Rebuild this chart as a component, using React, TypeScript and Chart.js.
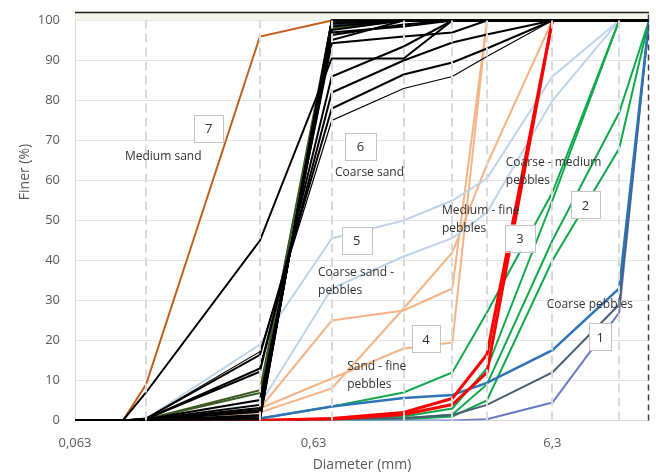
import React, { useEffect, useRef } from 'react';
import { Chart, registerables } from 'chart.js';

Chart.register(...registerables);

// Sieve openings (mm) shared by every grading curve
const SIEVES = [0.063, 0.1, 0.125, 0.375, 0.75, 1.5, 2.4, 3.35, 6.3, 12, 16];
const X_TICKS = [0.063, 0.63, 6.3];
const Y_TICK_STEP = 10;
const Y_MAX = 102;

// Group 7 – medium sand
const MEDIUM_SAND = [0, 0, 9, 96, 100, 100, 100, 100, 100, 100, 100];

// Group 6 – coarse sand (black)
const COARSE_SAND = [
  [0, 0, 0.5, 17.2, 75, 83, 86, 91, 100, 100, 100],
  [0, 0, 0.5, 16.4, 78, 86.5, 89.5, 93, 100, 100, 100],
  [0, 0, 0.4, 13, 82, 90, 94.5, 96.5, 100, 100, 100],
  [0, 0, 0.4, 12.2, 86, 93.5, 100, 100, 100, 100, 100],
  [0, 0, 7, 45, 90.5, 90.5, 100, 100, 100, 100, 100],
  [0, 0, 0.3, 5.1, 94.3, 96, 97, 100, 100, 100, 100],
  [0, 0, 0.2, 3.9, 95.1, 100, 100, 100, 100, 100, 100],
  [0, 0, 0.2, 3.1, 96.4, 99, 100, 100, 100, 100, 100],
  [0, 0, 0.1, 2.2, 97.6, 100, 100, 100, 100, 100, 100],
  [0, 0, 0, 2.6, 97, 98.5, 100, 100, 100, 100, 100],
  [0, 0, 0, 1.4, 98.5, 100, 100, 100, 100, 100, 100],
  [0, 0, 0, 0.9, 99.3, 100, 100, 100, 100, 100, 100],
  [0, 0, 0, 0.5, 100, 100, 100, 100, 100, 100, 100],
  [0, 0, 0, 0.2, 100, 100, 100, 100, 100, 100, 100],
];
// Group 6 – coarse sand (olive and navy samples)
const COARSE_SAND_OLIVE = [
  [0, 0, 0.3, 7.6, 98, 100, 100, 100, 100, 100, 100],
  [0, 0, 0.3, 6.9, 100, 100, 100, 100, 100, 100, 100],
];
const COARSE_SAND_NAVY = [
  [0, 0, 0, 1.2, 99, 100, 100, 100, 100, 100, 100],
  [0, 0, 0, 0.3, 100, 100, 100, 100, 100, 100, 100],
];

// Group 5 – coarse sand to pebbles
const SAND_PEBBLES = [
  [0, 0, 0.5, 19, 45.5, 50, 55, 60.5, 86, 100, 100],
  [0, 0, 0.3, 4, 33, 41, 45.6, 52, 80, 100, 100],
];

// Group 4 – sand to fine pebbles
const SAND_FINE_PEBBLES = [
  [0, 0, 0, 3, 25, 27.5, 33, 100, 100, 100, 100],
  [0, 0, 0, 3, 10.5, 18, 19.5, 100, 100, 100, 100],
  [0, 0, 0, 2, 8, 28, 42, 64, 100, 100, 100],
];

// Group 3 – medium to fine pebbles
const MEDIUM_FINE_PEBBLES = [
  [0, 0, 0, 0, 0.5, 2, 5.5, 16.5, 100, 100, 100],
  [0, 0, 0, 0, 0.3, 1.5, 4, 12, 100, 100, 100],
];

// Group 2 – coarse to medium pebbles
const COARSE_MEDIUM_PEBBLES = [
  [0, 0, 0, 0.5, 3.5, 7, 12, 27, 57, 100, 100],
  [0, 0, 0, 0, 0.5, 1, 3, 13, 55, 100, 100],
  [0, 0, 0, 0, 0.3, 0.5, 1.5, 9, 45, 77, 100],
  [0, 0, 0, 0, 0, 0.3, 1, 5, 40, 68, 100],
];

// Group 1 – coarse pebbles
const COARSE_PEBBLES_A = [0, 0, 0, 0.5, 3.5, 5.6, 6.4, 9.4, 17.6, 33, 100];
const COARSE_PEBBLES_B = [0, 0, 0, 0, 0.3, 0.6, 1.4, 3.9, 12, 29, 100];
const COARSE_PEBBLES_C = [0, 0, 0, 0, 0, 0, 0, 0.3, 4.5, 27, 100];

// Dashed guides at the sieve openings
const SIEVE_GUIDES = [0.125, 0.375, 0.75, 1.5, 2.4, 3.35, 6.3, 12];

// Group markers (number boxes) and captions, placed in diameter / percent units
const GROUP_BOXES = [
  { text: '7', d: 0.229, v: 73.1, w: 29 },
  { text: '6', d: 0.99, v: 68.6, w: 31 },
  { text: '5', d: 0.954, v: 45.1, w: 30 },
  { text: '4', d: 1.86, v: 20.4, w: 28 },
  { text: '3', d: 4.61, v: 45.6, w: 30 },
  { text: '2', d: 8.66, v: 53.9, w: 29 },
  { text: '1', d: 10.0, v: 20.9, w: 22 },
];
const CAPTIONS = [
  { lines: ['Medium sand'], d: 0.102, v: 65.9 },
  { lines: ['Coarse sand'], d: 0.774, v: 61.9 },
  { lines: ['Coarse sand -', 'pebbles'], d: 0.657, v: 37.1 },
  { lines: ['Medium - fine', 'pebbles'], d: 2.17, v: 52.6 },
  { lines: ['Coarse - medium', 'pebbles'], d: 4.02, v: 64.4 },
  { lines: ['Sand - fine', 'pebbles'], d: 0.87, v: 13.6 },
  { lines: ['Coarse pebbles'], d: 5.97, v: 29.1 },
];

const FONT = "'Open Sans', 'DejaVu Sans', sans-serif";

function curve(values: number[], color: string, width: number) {
  return {
    data: SIEVES.map((d, i) => ({ x: d, y: values[i] })),
    borderColor: color,
    backgroundColor: color,
    borderWidth: width,
    pointRadius: 0,
    tension: 0,
    fill: false,
  };
}

const overlay = {
  id: 'overlay',
  beforeDatasetsDraw(chart: any) {
    const { ctx, chartArea, scales } = chart;
    const y100 = scales.y.getPixelForValue(100);
    ctx.save();
    ctx.fillStyle = 'rgba(236, 242, 226, 0.7)';
    ctx.fillRect(chartArea.left, chartArea.top, chartArea.right - chartArea.left, y100 - chartArea.top);
    ctx.restore();
  },
  afterDatasetsDraw(chart: any) {
    const { ctx, chartArea, scales } = chart;
    const { x, y } = scales;
    ctx.save();
    ctx.strokeStyle = '#dadada';
    ctx.lineWidth = 2;
    ctx.setLineDash([9, 5]);
    for (const d of SIEVE_GUIDES) {
      const px = Math.round(x.getPixelForValue(d));
      ctx.beginPath();
      ctx.moveTo(px, chartArea.bottom);
      ctx.lineTo(px, y.getPixelForValue(100));
      ctx.stroke();
    }
    // right-hand edge of the sieve range
    ctx.strokeStyle = '#404040';
    ctx.lineWidth = 1.5;
    ctx.setLineDash([6, 4]);
    ctx.beginPath();
    ctx.moveTo(chartArea.right - 0.5, chartArea.bottom);
    ctx.lineTo(chartArea.right - 0.5, chartArea.top);
    ctx.stroke();
    ctx.restore();
  },
  afterDraw(chart: any) {
    const { ctx, chartArea, scales } = chart;
    const { x, y } = scales;
    ctx.save();
    // top frame
    ctx.strokeStyle = '#1a1a1a';
    ctx.lineWidth = 1.5;
    ctx.beginPath();
    ctx.moveTo(chartArea.left, chartArea.top);
    ctx.lineTo(chartArea.right, chartArea.top);
    ctx.stroke();

    // group number boxes
    ctx.font = `13px ${FONT}`;
    ctx.textAlign = 'center';
    ctx.textBaseline = 'middle';
    for (const b of GROUP_BOXES) {
      const cx = x.getPixelForValue(b.d);
      const cy = y.getPixelForValue(b.v);
      const h = 27;
      ctx.fillStyle = '#ffffff';
      ctx.fillRect(cx - b.w / 2, cy - h / 2, b.w, h);
      ctx.strokeStyle = '#c4c4c4';
      ctx.lineWidth = 1;
      ctx.strokeRect(Math.round(cx - b.w / 2) + 0.5, Math.round(cy - h / 2) + 0.5, b.w, h);
      ctx.fillStyle = '#333333';
      ctx.fillText(b.text, cx, cy + 1);
    }

    // captions
    ctx.font = `12px ${FONT}`;
    ctx.textAlign = 'left';
    ctx.fillStyle = '#333333';
    for (const c of CAPTIONS) {
      const lx = x.getPixelForValue(c.d);
      const ly = y.getPixelForValue(c.v);
      c.lines.forEach((t, i) => ctx.fillText(t, lx, ly + i * 18));
    }

    // axis titles
    ctx.fillStyle = '#595959';
    ctx.font = `14px ${FONT}`;
    ctx.textAlign = 'center';
    ctx.fillText('Diameter (mm)', 362, 465);
    ctx.translate(25, 172);
    ctx.rotate(-Math.PI / 2);
    ctx.fillText('Finer (%)', 0, 0);
    ctx.restore();
  },
};

export default function App() {
  const canvasRef = useRef<HTMLCanvasElement | null>(null);

  useEffect(() => {
    if (!canvasRef.current) return;
    // first entry is drawn on top
    const datasets = [
      ...COARSE_SAND.map((v, i) => curve(v, '#000000', i === 0 ? 1.2 : 2)),
      ...COARSE_SAND_OLIVE.map((v) => curve(v, '#3a5a24', 2)),
      ...COARSE_SAND_NAVY.map((v) => curve(v, '#1f3552', 2)),
      curve(MEDIUM_SAND, '#c0601c', 2),
      ...MEDIUM_FINE_PEBBLES.map((v) => curve(v, '#ff0000', 3)),
      curve(COARSE_PEBBLES_A, '#2e75b6', 2.5),
      curve(COARSE_PEBBLES_B, '#4a5d78', 2),
      curve(COARSE_PEBBLES_C, '#6a7cc4', 2),
      ...COARSE_MEDIUM_PEBBLES.map((v) => curve(v, '#12a84c', 2)),
      ...SAND_PEBBLES.map((v) => curve(v, '#bfd4ea', 2)),
      ...SAND_FINE_PEBBLES.map((v) => curve(v, '#f4b486', 2)),
    ];

    const chart = new Chart(canvasRef.current, {
      type: 'line',
      data: { datasets },
      options: {
        responsive: false,
        animation: false,
        devicePixelRatio: 1,
        layout: { padding: { top: 12.5, right: 7, left: 0, bottom: 0 } },
        plugins: { legend: { display: false }, tooltip: { enabled: false } },
        scales: {
          x: {
            type: 'logarithmic',
            min: SIEVES[0],
            max: SIEVES[SIEVES.length - 1],
            afterBuildTicks: (s: any) => {
              s.ticks = X_TICKS.map((v) => ({ value: v }));
            },
            afterFit: (s: any) => {
              s.height = 54.5;
              s.paddingLeft = 0;
              s.paddingRight = 0;
            },
            ticks: {
              autoSkip: false,
              maxRotation: 0,
              padding: 7,
              color: '#595959',
              font: { family: FONT, size: 13 },
              callback: (v: any) => String(v).replace('.', ','),
            },
            grid: { display: false },
            border: { display: true, color: '#d9d9d9' },
          },
          y: {
            min: 0,
            max: Y_MAX,
            afterFit: (s: any) => {
              s.width = 75;
              s.paddingTop = 0;
              s.paddingBottom = 0;
            },
            ticks: {
              stepSize: Y_TICK_STEP,
              includeBounds: false,
              padding: 15,
              color: '#595959',
              font: { family: FONT, size: 13 },
            },
            grid: { color: '#e4e4e4', drawTicks: false },
            border: { display: true, color: '#d9d9d9' },
          },
        },
      },
      plugins: [overlay],
    } as any);

    return () => chart.destroy();
  }, []);

  return (
    <div style={{ position: 'fixed', left: 0, top: 0, width: 656, height: 475, background: '#ffffff' }}>
      <canvas ref={canvasRef} width={656} height={475} />
    </div>
  );
}
